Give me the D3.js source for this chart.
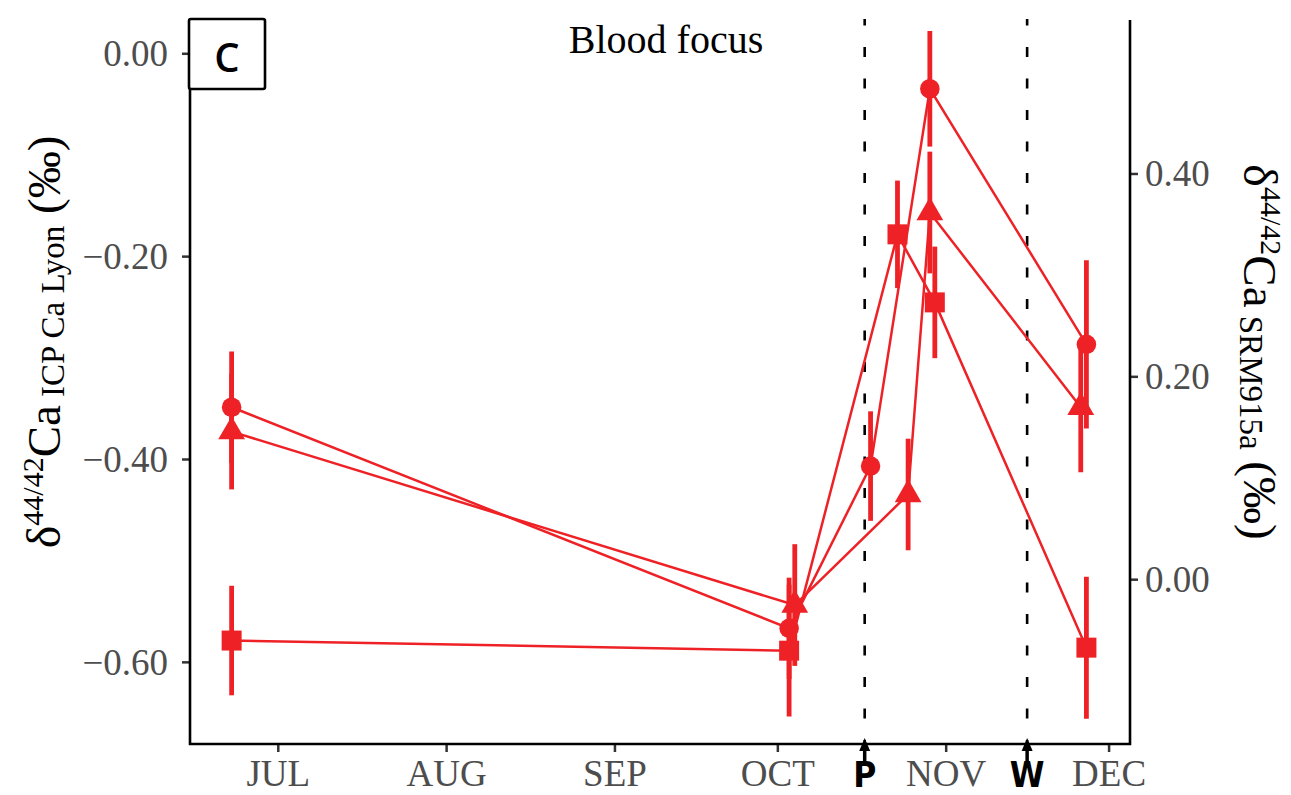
<!DOCTYPE html>
<html>
<head>
<meta charset="utf-8">
<script src="https://cdn.jsdelivr.net/npm/d3@7"></script>
<style>
  html, body { margin: 0; padding: 0; background: #fff; }
  svg { display: block; }
</style>
</head>
<body>
<svg id="chart" width="1291" height="795"></svg>
<script>
// ---------------- data ----------------
const monthLabels = ["JUL", "AUG", "SEP", "OCT", "NOV", "DEC"];
const monthDates  = ["2021-07-01T00:00", "2021-08-01T00:00", "2021-09-01T00:00", "2021-10-01T00:00", "2021-11-01T00:00", "2021-12-01T00:00"];
const leftTicks  = [0.00, -0.20, -0.40, -0.60];
const rightTicks = [0.00, 0.20, 0.40];
const eventLabels = ["P", "W"];
const eventDates  = ["2021-10-17T02:00", "2021-11-16T00:00"];

// values in δ44/42Ca ICP Ca Lyon (‰)
const circleDates  = ["2021-06-22T12:00", "2021-10-03T04:00", "2021-10-18T04:00", "2021-10-29T02:00", "2021-11-26T22:00"];
const circleValues = [-0.349, -0.567, -0.407, -0.035, -0.287];
const circleErrors = [0.055, 0.050, 0.054, 0.057, 0.083];

const triangleDates  = ["2021-06-22T12:00", "2021-10-04T05:00", "2021-10-25T02:00", "2021-10-29T02:00", "2021-11-25T21:00"];
const triangleValues = [-0.373, -0.544, -0.435, -0.157, -0.349];
const triangleErrors = [0.057, 0.060, 0.055, 0.060, 0.064];

const squareDates  = ["2021-06-22T12:00", "2021-10-03T04:00", "2021-10-23T03:00", "2021-10-30T00:00", "2021-11-26T22:00"];
const squareValues = [-0.579, -0.589, -0.1785, -0.2456, -0.586];
const squareErrors = [0.054, 0.065, 0.053, 0.055, 0.070];

const offsetSRM = 0.5185; // SRM915a = ICP Ca Lyon + offset
const xDomain = ["2021-06-14T20:00", "2021-12-04T22:40"];
const yDomain = [-0.681, 0.0338];

// ---------------- layout ----------------
const parse = d3.utcParse("%Y-%m-%dT%H:%M");
const red = "#EE2226";
const panel = { left: 190, right: 1130, top: 19, bottom: 744 };

const svg = d3.select("#chart");

const x = d3.scaleUtc().domain(xDomain.map(parse)).range([panel.left, panel.right]);
const y = d3.scaleLinear().domain(yDomain).range([panel.bottom, panel.top]);
const y2 = d3.scaleLinear().domain(yDomain.map(v => v + offsetSRM)).range([panel.bottom, panel.top]);

const series = [
  { shape: d3.symbolCircle,   size: 300, dates: circleDates,   values: circleValues,   errors: circleErrors },
  { shape: d3.symbolTriangle, size: 310, dates: triangleDates, values: triangleValues, errors: triangleErrors },
  { shape: d3.symbolSquare,   size: 400, dates: squareDates,   values: squareValues,   errors: squareErrors }
].map(s => ({ ...s, pts: s.dates.map((d, i) => ({ date: parse(d), v: s.values[i], e: s.errors[i] })) }));

svg.append("defs").append("clipPath").attr("id", "pclip")
  .append("rect").attr("x", panel.left).attr("y", panel.top)
  .attr("width", panel.right - panel.left).attr("height", panel.bottom - panel.top);

// dashed event lines
const dashG = svg.append("g").attr("clip-path", "url(#pclip)");
eventDates.forEach(d => {
  const xx = x(parse(d));
  dashG.append("line")
    .attr("x1", xx).attr("x2", xx).attr("y1", 750).attr("y2", panel.top - 5)
    .attr("stroke", "#000").attr("stroke-width", 2.6)
    .attr("stroke-dasharray", "10,21.5");
});

// data lines
const line = d3.line().x(p => x(p.date)).y(p => y(p.v));
series.forEach(s => {
  svg.append("path").datum(s.pts).attr("d", line)
    .attr("fill", "none").attr("stroke", red).attr("stroke-width", 2.5);
});
// error bars
series.forEach(s => {
  svg.append("g").selectAll("line").data(s.pts).join("line")
    .attr("x1", p => x(p.date)).attr("x2", p => x(p.date))
    .attr("y1", p => y(p.v - p.e)).attr("y2", p => y(p.v + p.e))
    .attr("stroke", red).attr("stroke-width", 4.8);
});
// points
series.forEach(s => {
  svg.append("g").selectAll("path").data(s.pts).join("path")
    .attr("transform", p => `translate(${x(p.date)},${y(p.v)})`)
    .attr("d", d3.symbol().type(s.shape).size(s.size))
    .attr("fill", red);
});

// ---------------- axes ----------------
const tickFont = "'Liberation Serif', 'Times New Roman', serif";
const fmt = d3.format(".2f");

const axL = d3.axisLeft(y).tickValues(leftTicks).tickSize(8).tickPadding(14).tickFormat(fmt);
const gL = svg.append("g").attr("transform", `translate(${panel.left},0)`).call(axL);
const axR = d3.axisRight(y2).tickValues(rightTicks).tickSize(8).tickPadding(7).tickFormat(fmt);
const gR = svg.append("g").attr("transform", `translate(${panel.right},0)`).call(axR);
const axB = d3.axisBottom(x).tickValues(monthDates.map(parse)).tickSize(8).tickPadding(10)
  .tickFormat((d, i) => monthLabels[i]);
const gB = svg.append("g").attr("transform", `translate(0,${panel.bottom})`).call(axB);

[gL, gR, gB].forEach(g => {
  g.select(".domain").remove();
  g.selectAll(".tick line").attr("stroke", "#333").attr("stroke-width", 2.5);
  g.selectAll(".tick text").attr("fill", "#4D4D4D")
    .style("font-family", tickFont).style("font-size", "37px");
});
gL.selectAll(".tick text").attr("dy", "0.33em");
gR.selectAll(".tick text").attr("dy", "0.33em");
gB.selectAll(".tick text").attr("dy", "0").attr("y", 42).style("font-size", "37px");

// axis lines
svg.append("path")
  .attr("d", `M${panel.left},${panel.top}V${panel.bottom}H${panel.right}V${panel.top + 1}`)
  .attr("fill", "none").attr("stroke", "#000").attr("stroke-width", 2.6);

// event markers P / W
eventDates.forEach((d, i) => {
  const xx = x(parse(d));
  const g = svg.append("g");
  g.append("line").attr("x1", xx).attr("x2", xx).attr("y1", 761).attr("y2", 748)
    .attr("stroke", "#000").attr("stroke-width", 3.5);
  g.append("path").attr("d", `M${xx},${738}L${xx - 5.5},${751}L${xx + 5.5},${751}Z`).attr("fill", "#000");
  g.append("text").attr("x", xx).attr("y", 787).attr("text-anchor", "middle")
    .style("font-family", "'Liberation Sans Narrow', 'DejaVu Sans Condensed', 'Arial Narrow', sans-serif")
    .style("font-weight", "bold").style("font-size", "35px").text(eventLabels[i]);
});

// title
svg.append("text").attr("x", 666).attr("y", 53).attr("text-anchor", "middle")
  .style("font-family", tickFont).style("font-size", "40px").attr("fill", "#000")
  .text("Blood focus");

// panel label
svg.append("rect").attr("x", 189).attr("y", 19).attr("width", 76).attr("height", 70)
  .attr("rx", 2).attr("fill", "#fff").attr("stroke", "#000").attr("stroke-width", 2.6);
svg.append("text").attr("x", 227).attr("y", 72).attr("text-anchor", "middle")
  .style("font-family", "'Open Sans', 'Noto Sans', sans-serif").style("font-weight", 600)
  .style("font-size", "40px").text("C");

// y axis titles
function axisTitle(tx, ty, rot, sub) {
  const t = svg.append("text")
    .attr("transform", `translate(${tx},${ty}) rotate(${rot})`)
    .attr("text-anchor", "middle")
    .style("font-family", tickFont).attr("fill", "#000");
  t.append("tspan").style("font-size", "48px").text("δ");
  t.append("tspan").style("font-size", "30px").attr("dy", -17).text("44/42");
  t.append("tspan").style("font-size", "47px").attr("dy", 17).text("Ca");
  t.append("tspan").style("font-size", "33px").attr("dy", 4).text(" " + sub);
  t.append("tspan").style("font-size", "47px").attr("dy", -4).text(" (‰)");
}
axisTitle(60, 342, -90, "ICP Ca Lyon");
axisTitle(1244, 352, 90, "SRM915a");
</script>
</body>
</html>
